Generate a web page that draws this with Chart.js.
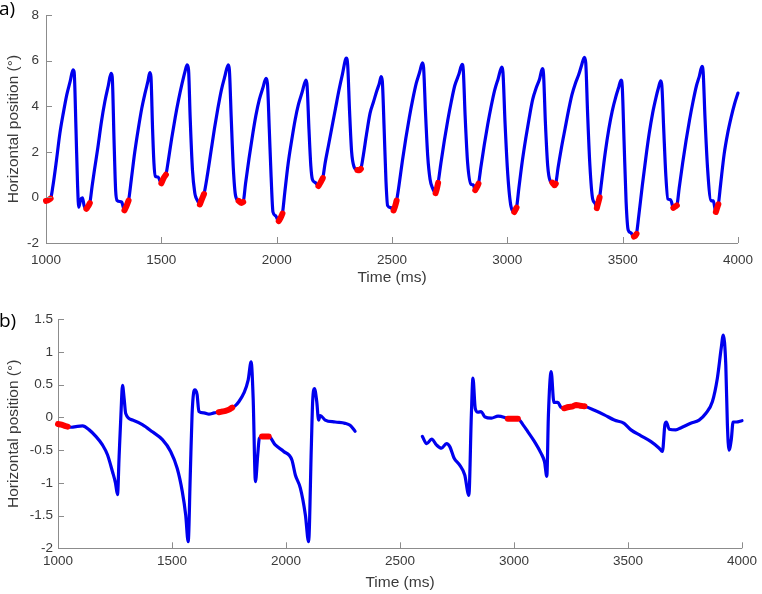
<!DOCTYPE html>
<html><head><meta charset="utf-8">
<script src="https://cdn.jsdelivr.net/npm/chart.js@4"></script>
<style>
html,body{margin:0;padding:0;background:#fff;width:762px;height:594px;overflow:hidden;}
.wrap{position:absolute;left:0;width:762px;height:297px;}
#wa{top:0}#wb{top:297px}
.lbl{position:absolute;font-family:"Open Sans",sans-serif;font-size:19px;color:#000;line-height:1;}
</style></head><body>
<div class="wrap" id="wa"><canvas id="ca" width="762" height="297"></canvas></div>
<div class="wrap" id="wb"><canvas id="cb" width="762" height="297"></canvas></div>
<div class="lbl" style="left:-1px;top:-1px">a)</div>
<div class="lbl" style="left:-1px;top:311px">b)</div>
<script>
// ---------- data ----------
const xTickLabels = [1000, 1500, 2000, 2500, 3000, 3500, 4000];
const yTicksA = [-2, 0, 2, 4, 6, 8];
const yTicksB = [-2, -1.5, -1, -0.5, 0, 0.5, 1, 1.5];

// panel a) time (ms)
const timeA = [
 1000,1010,1020,1030,1045,1060,1075,1090,1105,1117,1122,1130,1137,1142,1150,1158,1165,1175,1182,1190,
 1200,1210,1225,1240,1255,1270,1282,1287,1295,1302,1309,1320,1328,1340,1348,1358,
 1370,1385,1400,1415,1430,1442,1450,1455,1462,1468,1474,1486,1500,1510,1520,
 1530,1545,1560,1575,1590,1602,1612,1618,1625,1635,1645,1650,1657,1667,1675,1685,
 1700,1715,1730,1745,1760,1775,1790,1795,1803,1812,1822,1835,1848,1855,
 1865,1880,1895,1910,1925,1940,1954,1960,1968,1976,1984,1995,2009,2017,2025,
 2035,2050,2065,2080,2095,2110,2127,2132,2140,2148,2155,2168,2181,2190,2200,
 2210,2225,2240,2255,2270,2285,2302,2308,2316,2325,2335,2350,2359,2365,
 2375,2390,2405,2420,2435,2445,2453,2458,2466,2474,2481,2495,2507,2513,2520,
 2530,2545,2560,2575,2590,2605,2620,2632,2637,2645,2655,2665,2675,2689,2695,2700,
 2712,2727,2742,2757,2772,2790,2804,2809,2817,2828,2843,2852,2861,2868,2875,
 2885,2900,2915,2930,2945,2960,2976,2981,2990,3002,3016,3030,3035,3040,
 3050,3065,3080,3095,3110,3125,3140,3152,3157,3165,3175,3186,3195,3205,3210,
 3220,3235,3250,3265,3280,3295,3310,3322,3334,3340,3348,3358,3370,3380,3388,3395,3400,
 3410,3425,3440,3455,3470,3482,3493,3498,3506,3515,3524,3535,3549,3555,3560,
 3570,3585,3600,3615,3630,3645,3655,3665,3670,3678,3687,3696,3708,3720,3728,3735,
 3745,3760,3775,3790,3805,3820,3832,3844,3849,3857,3868,3883,3893,3904,3910,3915,
 3925,3940,3955,3970,3985,4000
];
// panel a) horizontal position (deg)
const posA = [
 -0.15,-0.12,-0.05,0.5,1.6,2.8,3.7,4.5,5.1,5.6,5.5,3.0,0.5,-0.43,-0.1,-0.02,-0.35,-0.5,-0.4,-0.25,
 0.5,1.2,2.2,3.3,4.2,4.9,5.44,5.3,2.5,0.3,-0.14,-0.18,-0.2,-0.57,-0.4,-0.14,
 0.8,2.0,3.0,3.9,4.6,5.1,5.48,5.3,3.0,1.5,0.93,0.89,0.62,0.85,1.0,
 1.6,2.6,3.5,4.3,5.0,5.5,5.82,5.6,3.5,1.2,0.2,0.0,-0.14,-0.31,-0.1,0.15,
 1.0,2.0,3.0,3.9,4.7,5.3,5.82,5.6,3.5,1.3,0.07,-0.15,-0.24,-0.2,
 0.6,1.7,2.7,3.6,4.3,4.8,5.22,5.0,3.0,0.9,-0.64,-0.8,-1.04,-0.9,-0.71,
 0.2,1.5,2.5,3.4,4.1,4.6,5.15,4.9,3.0,1.4,0.79,0.65,0.5,0.65,0.85,
 1.5,2.3,3.1,3.9,4.7,5.4,6.11,5.8,3.8,2.0,1.36,1.2,1.19,1.25,
 1.8,2.8,3.7,4.2,4.7,5.0,5.3,5.1,3.0,0.7,-0.36,-0.45,-0.57,-0.4,-0.14,
 0.5,1.6,2.6,3.5,4.3,5.0,5.5,5.91,5.7,3.8,1.8,0.8,0.43,0.19,0.4,0.64,
 1.5,2.5,3.4,4.2,4.9,5.4,5.84,5.6,3.6,1.5,0.57,0.55,0.32,0.45,0.6,
 1.3,2.3,3.2,4.0,4.7,5.2,5.72,5.5,3.3,1.0,-0.4,-0.64,-0.55,-0.45,
 0.4,1.6,2.6,3.5,4.3,4.8,5.2,5.65,5.4,3.3,1.4,0.72,0.65,0.53,0.6,
 1.3,2.2,3.0,3.8,4.5,5.0,5.4,5.8,6.15,5.9,3.7,1.4,-0.07,-0.25,-0.47,-0.2,0.0,
 0.8,2.0,3.0,3.8,4.4,4.8,5.15,4.9,2.5,-0.2,-1.43,-1.55,-1.72,-1.68,-1.6,
 -0.8,0.5,1.7,2.8,3.7,4.4,4.8,5.12,4.9,3.0,1.0,-0.07,-0.1,-0.46,-0.4,-0.35,
 0.4,1.5,2.5,3.4,4.2,4.9,5.3,5.75,5.5,3.5,1.3,-0.14,-0.15,-0.64,-0.45,-0.3,
 0.6,1.9,2.8,3.5,4.1,4.58
];
// panel a) fixation intervals (ms), drawn in red
const fixA = [[1000,1020],[1175,1190],[1340,1358],[1500,1520],[1667,1685],[1835,1855],[2009,2025],[2181,2200],[2350,2365],[2507,2520],[2689,2700],[2861,2875],[3030,3040],[3195,3210],[3388,3400],[3549,3560],[3720,3735],[3904,3915]];

// panel b) time (ms)
const timeB = [
 1000,1015,1030,1042,1060,1079,1108,1137,1166,1195,1217,1239,1252,1261,1268,1276,1283,1290,1297,1327,1370,1414,1458,1494,1523,1545,1560,1571,
 1580,1588,1595,1600,1610,1618,1640,1662,1685,1705,1720,1735,1750,1764,1778,1793,1815,1834,1847,1856,1866,1876,1883,1895,1910,1924,
 1953,1990,2026,2041,2063,2085,2099,2111,2117,2125,2135,2143,2150,2172,2216,2259,2281,2303,
 2450,
 2598,2617,2639,2660,2682,2704,2719,2737,2762,2784,2802,2813,2820,2830,2842,2856,2872,2901,2930,2959,2973,2995,3017,
 3039,3061,3090,3119,3134,3144,3151,3163,3175,3192,3205,3220,3240,3258,3273,3290,3309,3353,3396,3440,3483,3513,3557,3601,3637,3651,
 3662,3668,3681,3710,3731,3775,3812,3841,3870,3892,3909,3918,3929,3936,3943,3953,3961,3975,4000
];
// panel b) horizontal position (deg); null = missing data
const posB = [
 -0.10,-0.11,-0.13,-0.14,-0.15,-0.14,-0.13,-0.19,-0.29,-0.42,-0.57,-0.83,-1.0,-1.18,-0.6,0.04,0.49,0.29,0.06,-0.04,-0.11,-0.22,-0.34,-0.52,-0.78,-1.13,-1.49,-1.9,
 -0.9,0.04,0.38,0.42,0.35,0.09,0.07,0.05,0.07,0.08,0.09,0.10,0.12,0.15,0.18,0.24,0.37,0.57,0.85,0.29,-0.98,-0.57,-0.32,-0.29,-0.29,-0.29,
 -0.42,-0.52,-0.65,-0.88,-1.08,-1.49,-1.9,-0.47,0.25,0.44,0.24,-0.04,0.03,-0.04,-0.07,-0.09,-0.12,-0.21,
 null,
 -0.29,-0.40,-0.33,-0.42,-0.47,-0.40,-0.45,-0.62,-0.73,-0.88,-1.19,0.04,0.6,0.14,0.08,0.09,0.01,-0.01,0.02,0.0,-0.02,-0.02,-0.02,
 -0.11,-0.22,-0.37,-0.55,-0.68,-0.9,0.04,0.7,0.23,0.23,0.16,0.14,0.16,0.17,0.19,0.18,0.17,0.11,0.04,-0.04,-0.09,-0.19,-0.28,-0.37,-0.47,-0.52,
 -0.11,-0.07,-0.18,-0.19,-0.16,-0.09,-0.04,0.06,0.24,0.6,1.06,1.26,0.8,-0.11,-0.5,-0.34,-0.07,-0.07,-0.05
];
// panel b) fixation intervals (ms)
const fixB = [[1000,1042],[1705,1764],[1895,1924],[2973,3017],[3220,3309]];

// ---------- helpers ----------
function series(ts, vs) { return ts.map((t, i) => ({x: t, y: vs[i]})); }
function redSeries(ts, vs, fix) {
  return ts.map((t, i) => ({x: t, y: fix.some(([a, b]) => t >= a && t <= b) ? vs[i] : null}));
}

const AXIS_COL = '#8c8c8c';
const TEXT_COL = '#3a3a3a';
const FONT = '"Liberation Sans", Arial, sans-serif';

const inwardTicks = {
  id: 'inwardTicks',
  afterDatasetsDraw(chart) {
    const {ctx, chartArea: a, scales: {x, y}} = chart;
    ctx.save();
    ctx.strokeStyle = AXIS_COL;
    ctx.lineWidth = 1;
    ctx.beginPath();
    x.ticks.forEach(t => {
      const p = Math.round(x.getPixelForValue(t.value)) + 0.5;
      ctx.moveTo(p, a.bottom); ctx.lineTo(p, a.bottom - 6);
    });
    y.ticks.forEach(t => {
      const p = Math.round(y.getPixelForValue(t.value)) + 0.5;
      ctx.moveTo(a.left, p); ctx.lineTo(a.left + 6, p);
    });
    ctx.stroke();
    ctx.restore();
  }
};

function makeChart(id, ts, vs, fix, yTicks, ymin, ymax, g) {
  return new Chart(document.getElementById(id), {
    type: 'line',
    data: {
      datasets: [
        {data: redSeries(ts, vs, fix), borderColor: '#ff0000', borderWidth: 6, pointRadius: 0,
         spanGaps: false, cubicInterpolationMode: 'monotone', borderCapStyle: 'round', borderJoinStyle: 'round', clip: false},
        {data: series(ts, vs), borderColor: '#0000ee', borderWidth: 3.2, pointRadius: 0,
         spanGaps: false, cubicInterpolationMode: 'monotone', borderCapStyle: 'round', borderJoinStyle: 'round', clip: false}
      ]
    },
    options: {
      responsive: false, animation: false, devicePixelRatio: 1,
      layout: {padding: {top: g.top, right: 18, left: 0, bottom: 0}},
      plugins: {legend: {display: false}, tooltip: {enabled: false}},
      scales: {
        x: {
          type: 'linear', min: 1000, max: 4000,
          afterBuildTicks: s => { s.ticks = xTickLabels.map(v => ({value: v})); },
          ticks: {callback: v => String(v), color: TEXT_COL, font: {family: FONT, size: 13.5},
                  padding: g.xpad, maxRotation: 0, autoSkip: false},
          grid: {display: false, drawTicks: false},
          border: {display: true, color: AXIS_COL, width: 1},
          title: {display: true, text: 'Time (ms)', color: TEXT_COL, font: {family: FONT, size: 15.5},
                  padding: {top: 0, bottom: g.xtpad}},
          afterFit: s => { s.height = g.xh; }
        },
        y: {
          type: 'linear', min: ymin, max: ymax,
          afterBuildTicks: s => { s.ticks = yTicks.map(v => ({value: v})); },
          ticks: {callback: v => String(v), color: TEXT_COL, font: {family: FONT, size: 13.5},
                  padding: g.ypad, autoSkip: false},
          grid: {display: false, drawTicks: false},
          border: {display: true, color: AXIS_COL, width: 1},
          title: {display: true, text: 'Horizontal position (°)', color: TEXT_COL,
                  font: {family: FONT, size: 15.5}, padding: {top: 4.2, bottom: 0}},
          afterFit: s => { s.width = g.yw; }
        }
      }
    },
    plugins: [inwardTicks]
  });
}

makeChart('ca', timeA, posA, fixA, yTicksA, -2, 8, {top: 10, xh: 54, yw: 46, xpad: 9, xtpad: 9.7, ypad: 7});
makeChart('cb', timeB, posB, fixB, yTicksB, -2, 1.5, {top: 22.3, xh: 45.7, yw: 58, xpad: 5, xtpad: 1.7, ypad: 5});
</script>
</body></html>
